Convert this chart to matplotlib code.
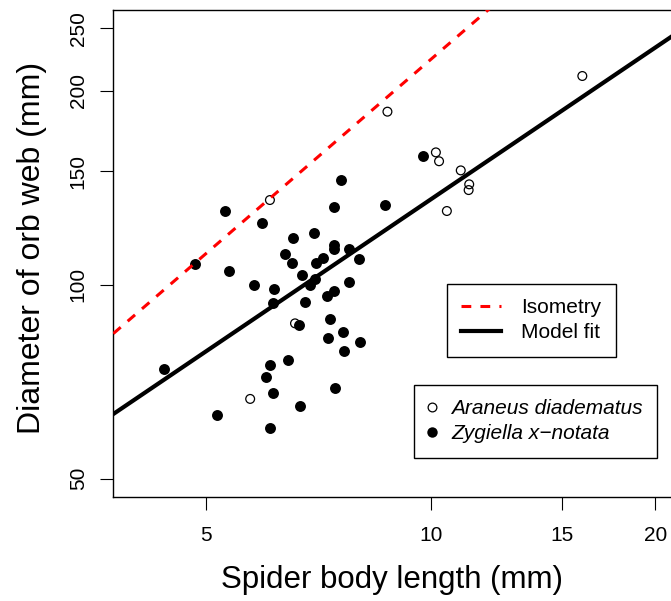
import numpy as np
import matplotlib
matplotlib.use("Agg")
import matplotlib.pyplot as plt
from matplotlib.lines import Line2D
from matplotlib.ticker import NullLocator

# body length (mm) and web diameter (mm)
araneus_len = [8.75, 15.96, 10.16, 10.26, 10.97, 11.26, 11.24, 10.51, 6.09, 6.58, 5.73]
araneus_web = [185.5, 210.7, 160.4, 155.4, 150.4, 143.1, 140.2, 130.1, 135.3, 87.1, 66.5]

zygiella_len = [7.58, 5.30, 5.94, 7.41, 8.69, 4.83, 5.36, 6.53, 6.98, 6.38,
                6.52, 7.41, 7.41, 7.77, 8.02, 7.18, 7.03, 6.72, 6.99, 6.90,
                5.80, 6.17, 7.77, 6.14, 6.78, 7.27, 7.43, 7.33, 6.66, 7.28,
                7.64, 8.04, 7.65, 4.39, 6.09, 6.43, 6.01, 6.15, 7.44, 6.68,
                5.18, 6.10, 9.76]
zygiella_web = [145.3, 130.1, 124.8, 131.8, 132.8, 107.7, 105.1, 118.1, 120.3, 111.5,
                108.0, 115.1, 113.7, 113.6, 109.5, 110.1, 107.9, 103.4, 102.1, 100.0,
                100.0, 98.6, 101.1, 93.6, 94.0, 96.1, 97.9, 88.5, 86.6, 82.6,
                84.5, 81.6, 79.0, 74.0, 75.1, 76.5, 71.9, 68.0, 69.1, 64.9,
                62.9, 60.0, 158.2]

# web = a * length^b
FIT_A = 22.35
FIT_B = 0.783
ISO_B = 1.0

X_TICKS = [5, 10, 15, 20]
Y_TICKS = [50, 100, 150, 200, 250]
X_LIM = (3.757, 20.98)
Y_LIM = (46.9, 266.7)

plt.rcParams["font.family"] = ["Liberation Sans", "DejaVu Sans"]

W, H = 671, 601
fig = plt.figure(figsize=(W / 100, H / 100), dpi=100)
left, top, bottom = 113.3, 10.0, 496.7
ax = fig.add_axes([left / W, (H - bottom) / H, (W - left) / W, (bottom - top) / H])
ax.set_xscale("log")
ax.set_yscale("log")
ax.set_xlim(*X_LIM)
ax.set_ylim(*Y_LIM)

ax.scatter(araneus_len, araneus_web, s=40, facecolors="none", edgecolors="black",
           linewidths=0.9, zorder=3)
ax.scatter(zygiella_len, zygiella_web, s=62, color="black", linewidths=0, zorder=3)

iso_dash = (0, (3.2, 3.0))
xs = np.geomspace(X_LIM[0], X_LIM[1], 200)
ax.plot(xs, FIT_A * xs ** ISO_B, color="red", lw=2.2, ls=iso_dash, zorder=4)
ax.plot(xs, FIT_A * xs ** FIT_B, color="black", lw=3.0, zorder=4)

ax.set_xticks(X_TICKS)
ax.set_xticklabels([str(t) for t in X_TICKS])
ax.set_yticks(Y_TICKS)
ax.set_yticklabels([str(t) for t in Y_TICKS])
ax.xaxis.set_minor_locator(NullLocator())
ax.yaxis.set_minor_locator(NullLocator())
ax.tick_params(direction="out", length=9.4, width=0.8, labelsize=15, colors="black")
ax.tick_params(axis="x", pad=12)
ax.tick_params(axis="y", pad=9, labelrotation=90)
for lbl in ax.get_yticklabels():
    lbl.set_va("center")

ax.spines["right"].set_visible(False)
for s in ("left", "top", "bottom"):
    ax.spines[s].set_linewidth(1.0)

ax.set_xlabel("Spider body length (mm)", fontsize=22.5, labelpad=14)
ax.set_ylabel("Diameter of orb web (mm)", fontsize=23)
ax.yaxis.set_label_coords(-0.118, 0.512)

legend_kw = dict(loc="upper left", bbox_transform=fig.transFigure, frameon=True,
                 fancybox=False, edgecolor="black", framealpha=1,
                 labelspacing=0.3, borderpad=0.68, borderaxespad=0)

line_handles = [Line2D([], [], color="red", lw=2.2, ls=iso_dash),
                Line2D([], [], color="black", lw=3.0)]
leg1 = ax.legend(line_handles, ["Isometry", "Model fit"],
                 bbox_to_anchor=(446.7 / W, 1 - 284 / H),
                 handlelength=1.92, handletextpad=0.98, fontsize=15, **legend_kw)
leg1.get_frame().set_linewidth(1.0)
ax.add_artist(leg1)

pt_handles = [Line2D([], [], ls="none", marker="o", ms=6.3, mfc="none", mec="black", mew=0.9),
              Line2D([], [], ls="none", marker="o", ms=7.5, mfc="black", mec="black", mew=0)]
leg2 = ax.legend(pt_handles, ["Araneus diadematus", "Zygiella x\u2212notata"],
                 bbox_to_anchor=(414 / W, 1 - 385 / H),
                 handlelength=0.4, handletextpad=0.71,
                 prop={"style": "italic", "size": 15}, **legend_kw)
leg2.get_frame().set_linewidth(1.0)

fig.savefig("out.png", dpi=100)
